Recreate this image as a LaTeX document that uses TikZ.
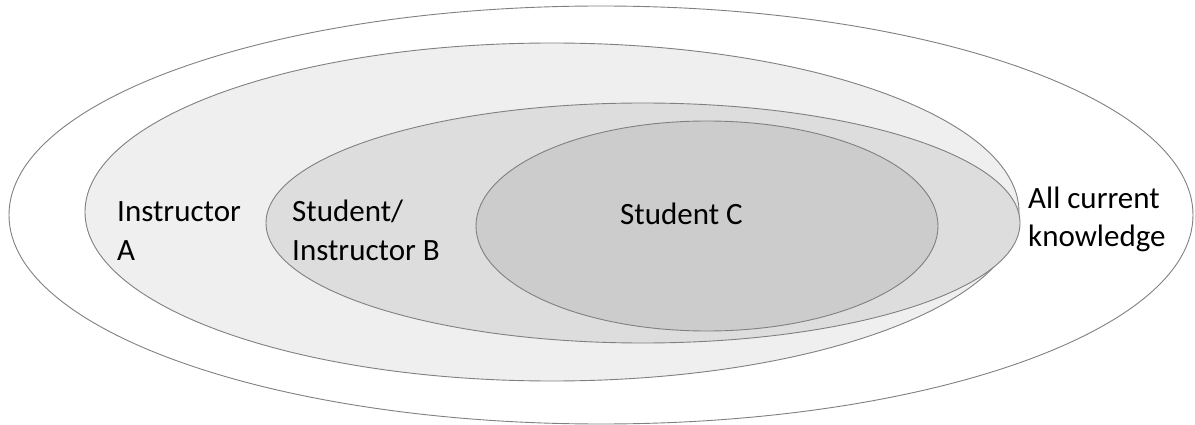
\documentclass[tikz,border=0pt]{standalone}
\usepackage{fontspec}
\setmainfont{Carlito}
\definecolor{lineg}{HTML}{808080}
\definecolor{fillA}{HTML}{EFEFEF}
\definecolor{fillB}{HTML}{DDDDDD}
\definecolor{fillC}{HTML}{CCCCCC}
\tikzset{
  ring/.style={draw=lineg, line width=0.9pt},
  lbl/.style={anchor=base west, inner sep=0pt, font=\fontsize{31}{38}\selectfont, text=black}
}
\begin{document}
\begin{tikzpicture}[x=1pt,y=-1pt]
\useasboundingbox (0,0) rectangle (1195,425);
% outer: all current knowledge
\filldraw[ring, fill=white] (601,215) ellipse [x radius=592, y radius=209];
% instructor A
\filldraw[ring, fill=fillA] (552,212) ellipse [x radius=467, y radius=169];
% student/instructor B
\filldraw[ring, fill=fillB] (643,223) ellipse [x radius=377, y radius=120];
% student C
\filldraw[ring, fill=fillC] (707,226) ellipse [x radius=231, y radius=105];
% labels
\node[lbl] (ia1) at (117,222) {Instructor};
\node[lbl] (ia2) at (117,260) {A};
\node[lbl] (sb1) at (292,222) {Student/};
\node[lbl] (sb2) at (292,260) {Instructor B};
\node[lbl] (sc)  at (620,225) {Student C};
\node[lbl] (ak1) at (1028,208) {All current};
\node[lbl] (ak2) at (1028,247) {knowledge};
\end{tikzpicture}
\end{document}
